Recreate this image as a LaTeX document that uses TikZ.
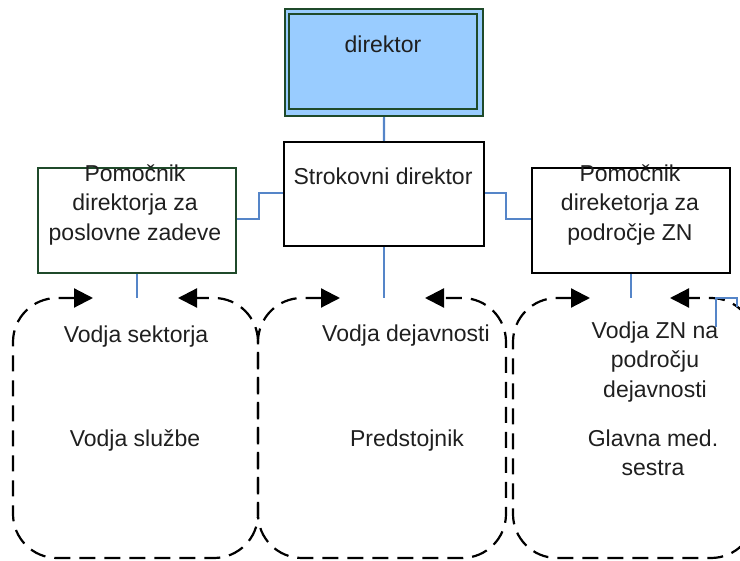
\documentclass[tikz,border=0pt]{standalone}
\usepackage{fontspec}
\setmainfont{Liberation Sans}
\usetikzlibrary{arrows.meta}
\definecolor{lblue}{HTML}{99CCFF}
\definecolor{dgreen}{HTML}{1F4A2A}
\definecolor{conblue}{HTML}{5585C8}
\tikzset{
  lbl/.style={inner sep=0pt, font=\fontsize{23}{29.5}\selectfont, text=black!88},
  mlbl/.style={lbl, align=center},
  conn/.style={draw=conblue, line width=2.2pt},
  loopline/.style={draw=black, line width=2.2pt, dash pattern=on 16pt off 9pt,
    rounded corners=44pt, {Triangle[length=19pt,width=19pt]}-{Triangle[length=19pt,width=19pt]}},
  boxgreen/.style={draw=dgreen, line width=1.8pt},
  boxblack/.style={draw=black, line width=2pt}
}
\begin{document}
\begin{tikzpicture}[x=1pt,y=-1pt]
\useasboundingbox (0,0) rectangle (740,561);
\begin{scope}
\clip (0,0) rectangle (740,561);
% director
\node[draw=dgreen, line width=2.2pt, fill=lblue, minimum width=198pt, minimum height=107pt, inner sep=0pt, anchor=north west] (dir) at (284,8) {};
\draw[dgreen, line width=2pt] (289,14) rectangle (477,109);
\node[lbl, anchor=base] (dirt) at (383,53) {direktor};
% strokovni
\node[boxblack, minimum width=200pt, minimum height=104pt, inner sep=0pt, anchor=north west] (str) at (283,141) {};
\node[lbl, anchor=base] (strt) at (383,185) {Strokovni direktor};
% left
\node[boxgreen, minimum width=198pt, minimum height=105pt, inner sep=0pt, anchor=north west] (pl) at (37,167) {};
\node[mlbl] (plt) at (135,205) {Pomočnik\\direktorja za\\poslovne zadeve};
% right
\node[boxblack, minimum width=198pt, minimum height=105pt, inner sep=0pt, anchor=north west] (pr) at (531,167) {};
\node[mlbl] (prt) at (630,205) {Pomočnik\\direketorja za\\področje ZN};
% loop coordinates
\coordinate (l1a) at (93,298); \coordinate (l1b) at (178,298);
\coordinate (l2a) at (340,298); \coordinate (l2b) at (425,298);
\coordinate (l3a) at (590,298); \coordinate (l3b) at (670,298);
\coordinate (t1) at (pl.south |- 0,298); \coordinate (t2) at (str.south |- 0,298); \coordinate (t3) at (pr.south |- 0,298);
% dashed loops
\draw[loopline] (l1a) -- (13,298) -- (13,558) -- (258,558) -- (258,298) -- (l1b);
\draw[loopline] (l2a) -- (258,298) -- (258,558) -- (506,558) -- (506,298) -- (l2b);
\draw[loopline] (l3a) -- (513,298) -- (513,558) -- (755,558) -- (755,298) -- (l3b);
% connectors
\draw[conn] (dir.south) -- (str.north);
\draw[conn] (str.south) -- (t2);
\draw[conn] (pl.south) -- (t1);
\draw[conn] (pr.south) -- (t3);
\draw[conn] (pl.east |- 0,219) -- (259,219) -- (259,193) -- (str.west |- 0,193);
\draw[conn] (str.east |- 0,193) -- (506,193) -- (506,219) -- (pr.west |- 0,219);
\coordinate (br1) at (716,327); \coordinate (br2) at (737,307);
\draw[conn] (br1) -- (716,298) -- (737,298) -- (br2);
% loop texts
\node[lbl, anchor=base] (s1a) at (136,343) {Vodja sektorja};
\node[lbl, anchor=base] (s1b) at (135,447) {Vodja službe};
\node[lbl, anchor=base] (s2a) at (406,342) {Vodja dejavnosti};
\node[lbl, anchor=base] (s2b) at (407,447) {Predstojnik};
\node[mlbl] (s3a) at (655,362) {Vodja ZN na\\področju\\dejavnosti};
\node[mlbl] (s3b) at (653,453) {Glavna med.\\sestra};
\end{scope}
\end{tikzpicture}
\end{document}
